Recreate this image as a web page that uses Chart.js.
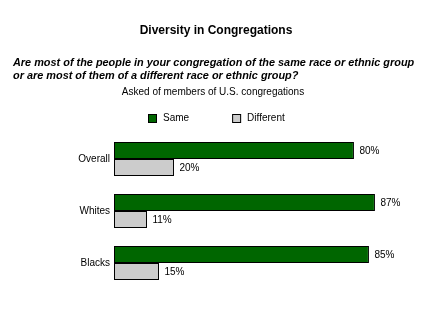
<!DOCTYPE html>
<html>
<head>
<meta charset="utf-8">
<script src="https://cdn.jsdelivr.net/npm/chart.js@4"></script>
<style>
  body { margin: 0; background: #fff; }
  #wrap { width: 440px; height: 335px; }
</style>
</head>
<body>
<div id="wrap"><canvas id="congregations"></canvas></div>
<script>
var groups = ['Overall', 'Whites', 'Blacks'];
var same = [80, 87, 85];
var different = [20, 11, 15];
var seriesNames = ['Same', 'Different'];
var seriesColors = ['#006600', '#cccccc'];

var FONT = 'Arial, "Liberation Sans", sans-serif';
Chart.defaults.font.family = FONT;
Chart.defaults.color = '#000';

// percent labels just past the end of each bar
var valueLabels = {
  id: 'valueLabels',
  afterDatasetsDraw: function (chart) {
    var ctx = chart.ctx;
    ctx.save();
    ctx.font = '10px ' + FONT;
    ctx.fillStyle = '#000';
    ctx.textBaseline = 'middle';
    chart.data.datasets.forEach(function (ds, i) {
      chart.getDatasetMeta(i).data.forEach(function (bar, j) {
        ctx.fillText(ds.data[j] + '%', bar.x + 5.5, bar.y + 1);
      });
    });
    ctx.restore();
  }
};

// "asked of" note and the key row under the question
var keyRow = {
  id: 'keyRow',
  afterDraw: function (chart) {
    var ctx = chart.ctx;
    var mid = (chart.titleBlock.left + chart.titleBlock.right) / 2;
    ctx.save();
    ctx.font = '10px ' + FONT;
    ctx.fillStyle = '#000';
    ctx.textBaseline = 'middle';
    ctx.textAlign = 'center';
    ctx.fillText('Asked of members of U.S. congregations', mid - 3, 92.5);

    ctx.textAlign = 'left';
    var box = 9, gap = 6, spacing = 43;
    var items = chart.data.datasets.map(function (ds) {
      return { text: ds.label, color: ds.backgroundColor, w: box + gap + ctx.measureText(ds.label).width };
    });
    var total = items.reduce(function (s, it) { return s + it.w; }, 0) + spacing * (items.length - 1);
    var x = Math.round(mid - total / 2);
    var y = 118;
    items.forEach(function (it) {
      ctx.fillStyle = it.color;
      ctx.fillRect(x, y - 4, box, box);
      ctx.strokeStyle = '#000';
      ctx.lineWidth = 1;
      ctx.strokeRect(x + 0.5, y - 3.5, box - 1, box - 1);
      ctx.fillStyle = '#000';
      ctx.fillText(it.text, x + box + gap, y);
      x += it.w + spacing;
    });
    ctx.restore();
  }
};

new Chart(document.getElementById('congregations'), {
  type: 'bar',
  data: {
    labels: groups,
    datasets: [
      {
        label: seriesNames[0],
        data: same,
        backgroundColor: seriesColors[0],
        borderColor: '#000',
        borderWidth: 1,
        borderSkipped: false
      },
      {
        label: seriesNames[1],
        data: different,
        backgroundColor: seriesColors[1],
        borderColor: '#000',
        borderWidth: 1,
        borderSkipped: false
      }
    ]
  },
  options: {
    indexAxis: 'y',
    responsive: true,
    maintainAspectRatio: false,
    animation: false,
    datasets: {
      bar: { barPercentage: 1, categoryPercentage: 0.654 }
    },
    layout: { padding: { left: 13, right: 21, top: 0, bottom: 46 } },
    scales: {
      x: { display: false, min: 0, max: 101.7 },
      y: {
        grid: { display: false, drawTicks: false },
        border: { display: false },
        ticks: { padding: 4, font: { size: 10 }, color: '#000' },
        afterFit: function (scale) { scale.width = 101; }
      }
    },
    plugins: {
      legend: { display: false },
      tooltip: { enabled: false },
      title: {
        display: true,
        text: 'Diversity in Congregations',
        font: { size: 12, weight: 'bold' },
        color: '#000',
        padding: { top: 23.5, bottom: 18 }
      },
      subtitle: {
        display: true,
        align: 'start',
        text: [
          'Are most of the people in your congregation of the same race or ethnic group',
          'or are most of them of a different race or ethnic group?'
        ],
        font: { size: 10.9, weight: 'bold', style: 'italic', lineHeight: 13 / 10.9 },
        color: '#000',
        padding: { top: 0.5, bottom: 50.6 }
      }
    }
  },
  plugins: [valueLabels, keyRow]
});
</script>
</body>
</html>
